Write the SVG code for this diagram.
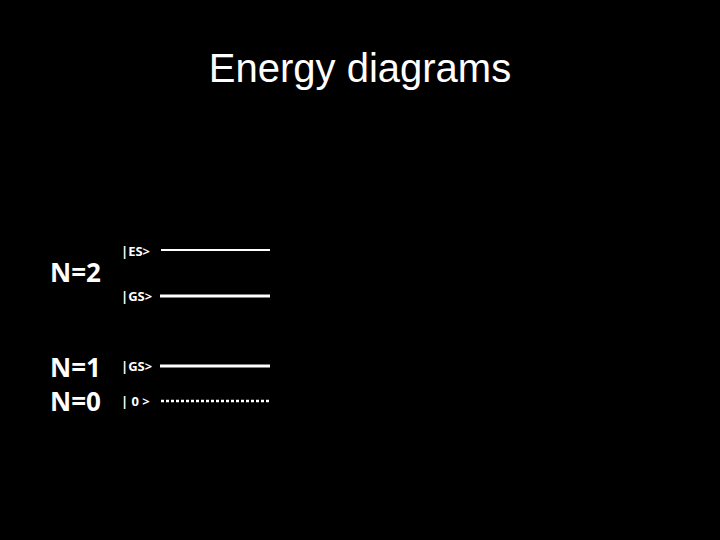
<svg xmlns="http://www.w3.org/2000/svg" width="720" height="540" viewBox="0 0 720 540">
<style>
.t{font-family:"Liberation Sans",Arial,sans-serif;fill:#fff}
.n{font-family:"Open Sans","DejaVu Sans",sans-serif;font-weight:bold;fill:#fff;font-size:26px}
.k{font-family:"Open Sans","DejaVu Sans",sans-serif;font-weight:bold;fill:#fff;font-size:13px}
.l{stroke:#fff;fill:none}
</style>
<rect width="720" height="540" fill="#000"/>
<text class="t" x="360" y="82" font-size="40" text-anchor="middle">Energy diagrams</text>
<g id="n2"><text class="n" x="50" y="282">N=2</text></g>
<g id="n1"><text class="n" x="50" y="377">N=1</text></g>
<g id="n0"><text class="n" x="50" y="411">N=0</text></g>
<g id="es2"><text class="k" x="121" y="256">|ES&gt;</text></g>
<g id="gs2"><text class="k" x="121" y="301">|GS&gt;</text></g>
<g id="gs1"><text class="k" x="121" y="371">|GS&gt;</text></g>
<g id="z0"><text class="k" x="121" y="406">| 0 &gt;</text></g>
<g id="connectors">
<line class="l" x1="161" y1="250" x2="270" y2="250" stroke-width="2"/>
<line class="l" x1="160" y1="296" x2="270" y2="296" stroke-width="3"/>
<line class="l" x1="160" y1="366" x2="270" y2="366" stroke-width="3"/>
<line class="l" x1="161" y1="401" x2="270" y2="401" stroke-width="2.5" stroke-dasharray="3,2"/>
</g>
</svg>
